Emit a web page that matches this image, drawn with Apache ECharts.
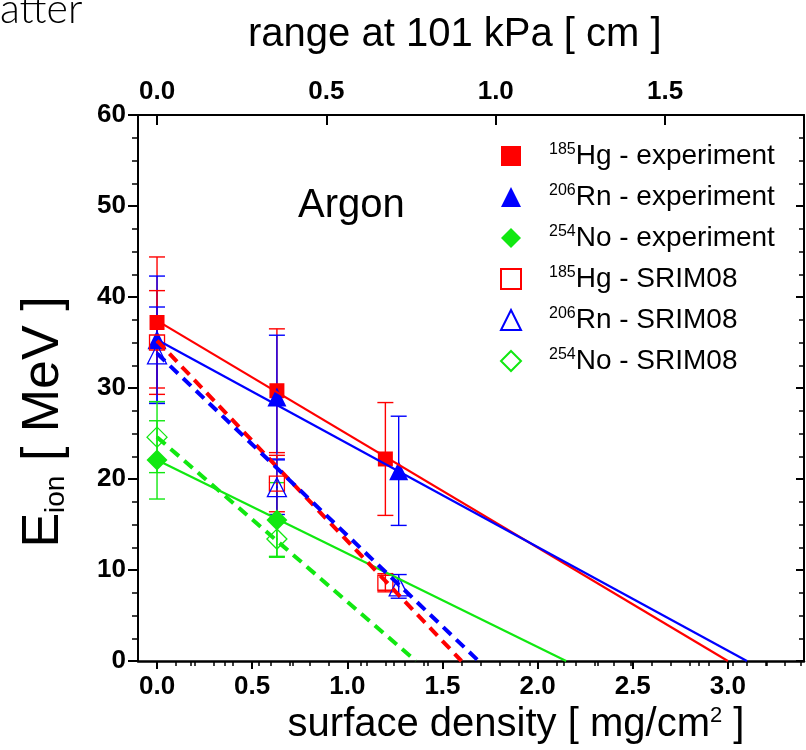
<!DOCTYPE html>
<html>
<head>
<meta charset="utf-8">
<script src="https://cdn.jsdelivr.net/npm/echarts@6/dist/echarts.min.js"></script>
<style>
  html, body { margin: 0; padding: 0; background: #fff; }
  #main { width: 806px; height: 750px; }
</style>
</head>
<body>
<div id="main"></div>
<script>
// surface density [mg/cm2], ion energy [MeV], error [MeV]
const hgExpX = [0, 0.63, 1.2]
const hgExpY = [37.2, 29.7, 22.2]
const hgExpErr = [7.2, 6.8, 6.2]
const rnExpX = [0, 0.63, 1.27]
const rnExpY = [35.3, 29.0, 20.9]
const rnExpErr = [7.0, 6.8, 6.0]
const noExpX = [0, 0.63]
const noExpY = [22.1, 15.5]
const noExpErr = [4.3, 4.1]

const hgSrimX = [0, 0.63, 1.2]
const hgSrimY = [35.0, 19.5, 8.6]
const hgSrimErr = [5.7, 3.1, 1.0]
const rnSrimX = [0, 0.63, 1.27]
const rnSrimY = [33.7, 19.1, 8.2]
const rnSrimErr = [5.2, 3.0, 1.3]
const noSrimX = [0, 0.63]
const noSrimY = [24.6, 13.4]
const noSrimErr = [3.9, 1.9]

// straight fits: [x, y] end points
const hgFit = [[0, 37.4], [3.0, 0]]
const rnFit = [[0, 35.3], [3.1, 0]]
const noFit = [[0, 22.1], [2.15, 0]]
const hgSrimFit = [[0, 35.2], [1.6, 0]]
const rnSrimFit = [[0, 33.8], [1.69, 0]]
const noSrimFit = [[0, 24.6], [1.36, 0]]

// ticks
const bottomTicks = [0, 0.5, 1, 1.5, 2, 2.5, 3]
const bottomMinor = [0.1, 0.2, 0.3, 0.4, 0.6, 0.7, 0.8, 0.9, 1.1, 1.2, 1.3, 1.4, 1.6, 1.7, 1.8, 1.9,
  2.1, 2.2, 2.3, 2.4, 2.6, 2.7, 2.8, 2.9, 3.1, 3.2, 3.3]
const topTicks = [0, 0.5, 1, 1.5]
const topMinor = [0.1, 0.2, 0.3, 0.4, 0.6, 0.7, 0.8, 0.9, 1.1, 1.2, 1.3, 1.4, 1.6, 1.7, 1.8, 1.9]

const names = ['185Hg - experiment', '206Rn - experiment', '254No - experiment',
  '185Hg - SRIM08', '206Rn - SRIM08', '254No - SRIM08']

const RED = '#ff0000', BLUE = '#0000ff', GREEN = '#11e811'
const FONT = '"Liberation Sans", Arial, sans-serif'
const argonDensity = 1.78 // mg/cm3 at 101 kPa
const xMin = -0.1, xMax = 3.4

function pairs(xs, ys) { return xs.map((x, i) => [x, ys[i]]) }
function bars(xs, ys, es) { return xs.map((x, i) => [x, ys[i] - es[i], ys[i] + es[i]]) }

function errorBar(params, api) {
  const x = api.value(0)
  const lo = api.coord([x, api.value(1)])
  const hi = api.coord([x, api.value(2)])
  const c = api.visual('color')
  const w = 8
  const st = { stroke: c, lineWidth: 1.4 }
  return {
    type: 'group',
    children: [
      { type: 'line', shape: { x1: lo[0], y1: lo[1], x2: hi[0], y2: hi[1] }, style: st },
      { type: 'line', shape: { x1: lo[0] - w, y1: lo[1], x2: lo[0] + w, y2: lo[1] }, style: st },
      { type: 'line', shape: { x1: hi[0] - w, y1: hi[1], x2: hi[0] + w, y2: hi[1] }, style: st }
    ]
  }
}

function barSeries(xs, ys, es, color) {
  return {
    type: 'custom', renderItem: errorBar, data: bars(xs, ys, es),
    encode: { x: 0, y: [1, 2] }, itemStyle: { color: color }, z: 1, silent: true
  }
}
function fitSeries(data, color, dashed) {
  return {
    type: 'line', data: data, showSymbol: false, z: 4, silent: true,
    lineStyle: { color: color, width: dashed ? 4 : 2.2, type: dashed ? [11, 7] : 'solid' }
  }
}
function markSeries(name, xs, ys, symbol, size, color, open) {
  return {
    name: name, type: 'scatter', data: pairs(xs, ys), symbol: symbol, symbolSize: size, z: 3,
    itemStyle: open
      ? { color: 'rgba(0,0,0,0)', borderColor: color, borderWidth: 1.3, opacity: 1 }
      : { color: color, borderWidth: 0, opacity: 1 }
  }
}
// small dot in the middle of the SRIM symbols
function dotSeries(xs, ys, color) {
  return {
    type: 'scatter', data: pairs(xs, ys), symbol: 'circle', symbolSize: 2, z: 3, silent: true,
    itemStyle: { color: color, opacity: 1 }
  }
}

var chartDom = document.getElementById('main')
var myChart = echarts.init(chartDom)

var option = {
  animation: false,
  backgroundColor: '#fff',
  textStyle: { fontFamily: FONT },
  title: {
    text: 'range at 101 kPa [ cm ]', left: 243, top: 10,
    textStyle: { fontFamily: FONT, fontSize: 40, fontWeight: 'normal', color: '#000' }
  },
  graphic: [
    { type: 'text', left: 0, top: -11, style: { text: 'atter', font: '300 41px Lato, "Open Sans", sans-serif', fill: '#000' } },
    { type: 'text', left: 298, top: 186, style: { text: 'Argon', font: '40px ' + FONT, fill: '#000' } }
  ],
  grid: { left: 138, right: 2, top: 115, bottom: 87 },
  legend: {
    data: names, orient: 'vertical', left: 495, top: 137, itemWidth: 20, itemHeight: 20, itemGap: 13,
    selectedMode: false,
    formatter: n => n.replace(/^(\d+)/, '{sup|$1}'),
    textStyle: {
      fontFamily: FONT, fontSize: 28, color: '#000', lineHeight: 28, padding: [0, 0, 0, 23],
      rich: { sup: { fontSize: 16, verticalAlign: 'top', lineHeight: 28, fontFamily: FONT } }
    }
  },
  xAxis: [
    {
      type: 'value', position: 'bottom', min: xMin, max: xMax,
      name: 'surface density [ mg/cm{sup|2} ]', nameLocation: 'middle', nameGap: 44,
      nameTextStyle: {
        fontFamily: FONT, fontSize: 40, color: '#000', padding: [0, 0, 0, 90],
        rich: { sup: { fontSize: 22, verticalAlign: 'top', lineHeight: 40 } }
      },
      axisLine: { onZero: false, lineStyle: { color: '#000', width: 2.5 } },
      axisTick: { customValues: bottomTicks, length: 8, lineStyle: { color: '#000', width: 2 } },
      axisLabel: { customValues: bottomTicks, margin: 13, fontFamily: FONT, fontSize: 26, fontWeight: 'bold', color: '#000', formatter: v => v.toFixed(1) },
      splitLine: { show: false }
    },
    {
      type: 'value', position: 'top', min: xMin / argonDensity, max: xMax / argonDensity,
      axisLine: { onZero: false, lineStyle: { color: '#000', width: 2 } },
      axisTick: { customValues: topTicks, inside: true, length: 10, lineStyle: { color: '#000', width: 2 } },
      axisLabel: { customValues: topTicks, margin: 10, fontFamily: FONT, fontSize: 26, fontWeight: 'bold', color: '#000', formatter: v => v.toFixed(1) },
      splitLine: { show: false }
    },
    {
      type: 'value', position: 'bottom', min: xMin, max: xMax,
      axisLine: { show: false },
      axisTick: { customValues: bottomMinor, length: 5, lineStyle: { color: '#000', width: 1.5 } },
      axisLabel: { show: false }, splitLine: { show: false }
    },
    {
      type: 'value', position: 'top', min: xMin / argonDensity, max: xMax / argonDensity,
      axisLine: { show: false },
      axisTick: { customValues: topMinor, inside: true, length: 5, lineStyle: { color: '#000', width: 1.5 } },
      axisLabel: { show: false }, splitLine: { show: false }
    }
  ],
  yAxis: [
    {
      type: 'value', min: 0, max: 60, interval: 10, position: 'left',
      name: 'E{sub|ion} [ MeV ]', nameLocation: 'middle', nameGap: 68, nameRotate: 90,
      nameTextStyle: {
        fontFamily: FONT, fontSize: 52, color: '#000', padding: [0, 68, 0, 0],
        rich: { sub: { fontSize: 28, verticalAlign: 'bottom', lineHeight: 52 } }
      },
      axisLine: { onZero: false, lineStyle: { color: '#000', width: 2 } },
      axisTick: { length: 10, lineStyle: { color: '#000', width: 2 } },
      minorTick: { show: true, splitNumber: 4, length: 6, lineStyle: { color: '#000', width: 1.5 } },
      axisLabel: { margin: 12, fontFamily: FONT, fontSize: 26, fontWeight: 'bold', color: '#000' },
      splitLine: { show: false }, minorSplitLine: { show: false }
    },
    {
      type: 'value', min: 0, max: 60, interval: 10, position: 'right',
      axisLine: { onZero: false, lineStyle: { color: '#000', width: 2 } },
      axisTick: { inside: true, length: 8, lineStyle: { color: '#000', width: 2 } },
      minorTick: { show: true, splitNumber: 4, length: 5, lineStyle: { color: '#000', width: 1.5 } },
      axisLabel: { show: false }, splitLine: { show: false }, minorSplitLine: { show: false }
    }
  ],
  series: [
    barSeries(hgExpX, hgExpY, hgExpErr, RED),
    barSeries(rnExpX, rnExpY, rnExpErr, BLUE),
    barSeries(noExpX, noExpY, noExpErr, GREEN),
    barSeries(hgSrimX, hgSrimY, hgSrimErr, RED),
    barSeries(rnSrimX, rnSrimY, rnSrimErr, BLUE),
    barSeries(noSrimX, noSrimY, noSrimErr, GREEN),
    markSeries(names[0], hgExpX, hgExpY, 'rect', 15, RED, false),
    markSeries(names[1], rnExpX, rnExpY, 'triangle', 19, BLUE, false),
    markSeries(names[2], noExpX, noExpY, 'diamond', 21, GREEN, false),
    markSeries(names[3], hgSrimX, hgSrimY, 'rect', 15, RED, true),
    markSeries(names[4], rnSrimX, rnSrimY, 'triangle', 19, BLUE, true),
    markSeries(names[5], noSrimX, noSrimY, 'diamond', 20, GREEN, true),
    dotSeries(hgSrimX, hgSrimY, RED),
    dotSeries(rnSrimX, rnSrimY, BLUE),
    dotSeries(noSrimX, noSrimY, GREEN),
    fitSeries(hgFit, RED, false),
    fitSeries(rnFit, BLUE, false),
    fitSeries(noFit, GREEN, false),
    fitSeries(hgSrimFit, RED, true),
    fitSeries(rnSrimFit, BLUE, true),
    fitSeries(noSrimFit, GREEN, true)
  ]
}

option && myChart.setOption(option)
</script>
</body>
</html>
